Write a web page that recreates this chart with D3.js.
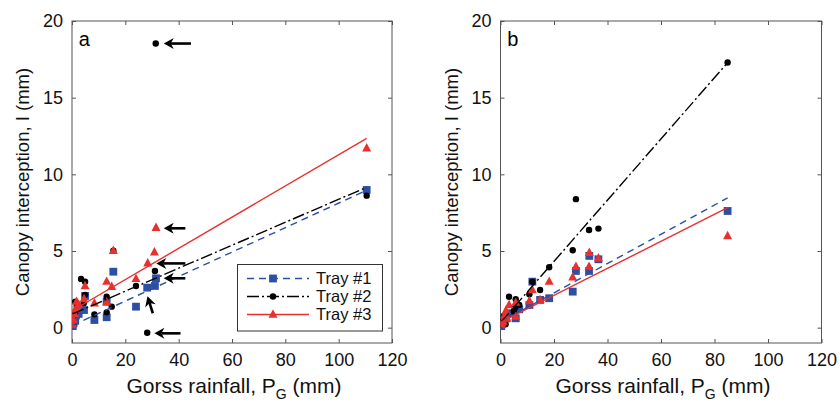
<!DOCTYPE html>
<html>
<head>
<meta charset="utf-8">
<script src="https://cdn.jsdelivr.net/npm/d3@7"></script>
<style>
  body { margin: 0; background: #fff; }
  text { font-family: "Liberation Sans", Arial, sans-serif; }
</style>
</head>
<body>
<script>
// tick values
var xTicks = [0, 20, 40, 60, 80, 100, 120];
var yTicks = [0, 5, 10, 15, 20];
var trayNames = ["Tray #1", "Tray #2", "Tray #3"];

// panel a: [P_G, I] per tray
var aTray1 = [[0.3,0.1],[0.6,0.3],[1,0.6],[1.2,0.45],[1.5,0.8],[2,1.0],[2.5,0.9],[4.5,1.15],[4.9,2.07],
  [8.4,0.5],[13,0.68],[13,1.7],[15.5,3.65],[24,1.37],[28.2,2.61],[31.1,2.72],[31.5,3.22],[110.5,8.98]];
var aTray2 = [[0.3,0.5],[0.6,0.3],[1.2,1.0],[1.2,1.7],[1.8,1.4],[4.4,1.6],[3.4,3.18],[4.9,3.0],[4.9,2.13],
  [8.4,0.87],[13,1.0],[13,2.02],[14.9,1.37],[15.5,5.02],[24,2.72],[28.2,-0.33],[31.1,3.7],[31.4,18.53],[110.5,8.61]];
var aTray3 = [[0.3,0.2],[0.6,0.5],[1,0.9],[1.3,1.2],[1.75,1.7],[2,1.3],[2.5,1.5],[4.5,1.87],[4.9,2.72],
  [8.4,1.59],[13,1.66],[13,3.0],[14.9,2.67],[15.5,5.02],[24,3.18],[28.4,4.2],[30.9,4.92],[31.5,6.52],[110.5,11.7]];

// panel b
var bTray1 = [[0.3,0.1],[0.6,0.3],[1,0.5],[1.5,0.7],[2,0.6],[3.2,0.94],[5.7,0.61],[7.0,1.2],[10.8,1.48],
  [11.9,3.0],[14.8,1.81],[18.2,1.92],[27.0,2.35],[28.2,3.7],[33.1,3.7],[33.2,4.68],[36.6,4.46],[84.9,7.61]];
var bTray2 = [[0.3,0.2],[0.6,0.4],[1.9,0.22],[1.2,0.7],[3.2,2.02],[5.0,1.04],[5.3,1.27],[5.7,1.85],[7.0,1.48],
  [10.8,2.18],[11.9,3.0],[14.8,2.46],[18.2,3.94],[27.0,5.05],[28.2,8.38],[33.1,6.37],[36.6,6.46],[84.9,17.29]];
var bTray3 = [[0.3,0.2],[0.5,0.3],[1,0.4],[1.5,0.8],[2,1.1],[2.5,0.6],[3.2,1.48],[5.7,0.72],[5.7,1.63],
  [10.8,1.74],[11.9,2.46],[14.8,1.81],[18.2,3.0],[27.0,3.29],[28.2,3.98],[33.1,3.98],[33.2,4.89],[36.6,4.53],[84.9,5.98]];

// fitted lines: [slope, intercept, Pmin, Pmax]
var aFits = [[0.0798, 0.14, 0.2, 110.5], [0.0749, 0.88, 0.2, 110.5], [0.1018, 1.1, 0.2, 110.5]];
var bFits = [[0.0955, 0.36, 0.2, 84.9], [0.1997, 0.33, 0.2, 84.9], [0.088, 0.35, 0.2, 84.9]];

// arrows in panel a: [fromP, fromI, toP, toI]
var aArrows = [[44.6,18.53,34.4,18.53],[42.5,6.48,34.4,6.48],[42.5,4.19,31.6,4.19],
  [42.5,3.22,34.4,3.22],[30.3,0.94,28.3,2.05],[40.7,-0.37,30.9,-0.37]];

var colors = ["#2c4fa3", "#000000", "#e8302e"];
var dashes = ["7,5", "12,3,2,3", null];

var width = 840, height = 403;
var plotTop = 21, plotBottom = 343;

var svg = d3.select("body").append("svg")
  .attr("width", width)
  .attr("height", height);

var defs = svg.append("defs");

function drawMarker(g, kind, cx, cy, color) {
  if (kind == 0) {
    g.append("rect").attr("x", cx - 3.9).attr("y", cy - 3.9)
      .attr("width", 7.8).attr("height", 7.8).attr("fill", color);
  } else if (kind == 1) {
    g.append("circle").attr("cx", cx).attr("cy", cy).attr("r", 3.2).attr("fill", color);
  } else {
    g.append("path")
      .attr("d", "M" + cx + "," + (cy - 5.2) + "L" + (cx + 4.5) + "," + (cy + 3.2) + "L" + (cx - 4.5) + "," + (cy + 3.2) + "Z")
      .attr("fill", color);
  }
}

function drawPanel(left, right, label, trays, fits, id) {
  var x = d3.scaleLinear().domain([0, 120]).range([left, right]);
  var y = d3.scaleLinear().domain([-1, 20]).range([plotBottom, plotTop]);
  var g = svg.append("g");

  defs.append("clipPath").attr("id", "clip" + id)
    .append("rect").attr("x", left).attr("y", plotTop)
    .attr("width", right - left).attr("height", plotBottom - plotTop);

  // axes with inward ticks on all sides
  g.append("g").attr("transform", "translate(0," + plotBottom + ")")
    .call(d3.axisBottom(x).tickValues(xTicks).tickSizeInner(-4).tickSizeOuter(0).tickPadding(10))
    .call(a => a.select(".domain").remove());
  g.append("g").attr("transform", "translate(0," + plotTop + ")")
    .call(d3.axisTop(x).tickValues(xTicks).tickSizeInner(-4).tickSizeOuter(0).tickFormat(""))
    .call(a => a.select(".domain").remove());
  g.append("g").attr("transform", "translate(" + left + ",0)")
    .call(d3.axisLeft(y).tickValues(yTicks).tickSizeInner(-4).tickSizeOuter(0).tickPadding(9))
    .call(a => a.select(".domain").remove());
  g.append("g").attr("transform", "translate(" + right + ",0)")
    .call(d3.axisRight(y).tickValues(yTicks).tickSizeInner(-4).tickSizeOuter(0).tickFormat(""))
    .call(a => a.select(".domain").remove());
  g.selectAll(".tick line").attr("stroke", "#555");
  g.selectAll(".tick text").attr("font-size", 18).attr("fill", "#111")
    .attr("font-family", "Liberation Sans, Arial, sans-serif");

  g.append("rect")
    .attr("x", left).attr("y", plotTop)
    .attr("width", right - left).attr("height", plotBottom - plotTop)
    .attr("fill", "none").attr("stroke", "#555").attr("stroke-width", 1);

  var plot = g.append("g").attr("clip-path", "url(#clip" + id + ")");

  // points: blue, black, red order (red drawn on top)
  [0, 1, 2].forEach(function(k) {
    trays[k].forEach(function(d) {
      drawMarker(plot, k, x(d[0]), y(d[1]), colors[k]);
    });
  });

  // fitted lines
  fits.forEach(function(f, k) {
    var pts = [[f[2], f[0] * f[2] + f[1]], [f[3], f[0] * f[3] + f[1]]];
    plot.append("path")
      .attr("d", d3.line().x(d => x(d[0])).y(d => y(d[1]))(pts))
      .attr("fill", "none")
      .attr("stroke", colors[k])
      .attr("stroke-width", 1.4)
      .attr("stroke-dasharray", dashes[k]);
  });

  // panel letter
  g.append("text").attr("x", x(2.5)).attr("y", y(18.4))
    .attr("font-size", 20).text(label);

  // axis titles
  var xt = g.append("text")
    .attr("x", (left + right) / 2 + 2).attr("y", 393)
    .attr("text-anchor", "middle").attr("font-size", 21).attr("fill", "#111");
  xt.append("tspan").text("Gorss rainfall, P");
  xt.append("tspan").attr("font-size", 14).attr("dy", 6).text("G");
  xt.append("tspan").attr("dy", -6).text(" (mm)");

  g.append("text")
    .attr("transform", "translate(" + (left - 43) + "," + ((plotTop + plotBottom) / 2) + ") rotate(-90)")
    .attr("text-anchor", "middle").attr("font-size", 18.5).attr("fill", "#111")
    .text("Canopy interception, I (mm)");

  return {x: x, y: y, g: g};
}

var pa = drawPanel(72, 392, "a", [aTray1, aTray2, aTray3], aFits, "a");
var pb = drawPanel(500.5, 821.5, "b", [bTray1, bTray2, bTray3], bFits, "b");

// arrows on panel a
aArrows.forEach(function(a) {
  var x1 = pa.x(a[0]), y1 = pa.y(a[1]), x2 = pa.x(a[2]), y2 = pa.y(a[3]);
  var ang = Math.atan2(y2 - y1, x2 - x1);
  var hl = 10, hw = 5.5;
  var bx = x2 - hl * Math.cos(ang), by = y2 - hl * Math.sin(ang);
  pa.g.append("line")
    .attr("x1", x1).attr("y1", y1).attr("x2", bx + 3 * Math.cos(ang)).attr("y2", by + 3 * Math.sin(ang))
    .attr("stroke", "#000").attr("stroke-width", 2.6);
  pa.g.append("path")
    .attr("d", "M" + x2 + "," + y2 +
      "L" + (bx - hw * Math.sin(ang)) + "," + (by + hw * Math.cos(ang)) +
      "L" + (bx + 3 * Math.cos(ang)) + "," + (by + 3 * Math.sin(ang)) +
      "L" + (bx + hw * Math.sin(ang)) + "," + (by - hw * Math.cos(ang)) + "Z")
    .attr("fill", "#000");
});

// legend in panel a
var lg = pa.g.append("g");
lg.append("rect").attr("x", 237.5).attr("y", 264.5).attr("width", 145).attr("height", 66.5)
  .attr("fill", "#fff").attr("stroke", "#333").attr("stroke-width", 1);
trayNames.forEach(function(name, k) {
  var ly = 278.5 + k * 18;
  lg.append("line").attr("x1", 247).attr("x2", 309).attr("y1", ly).attr("y2", ly)
    .attr("stroke", colors[k]).attr("stroke-width", 1.4).attr("stroke-dasharray", dashes[k]);
  drawMarker(lg, k, 273, ly, colors[k]);
  lg.append("text").attr("x", 316).attr("y", ly + 5.5).attr("font-size", 16.5).attr("fill", "#111").text(name);
});
</script>
</body>
</html>
